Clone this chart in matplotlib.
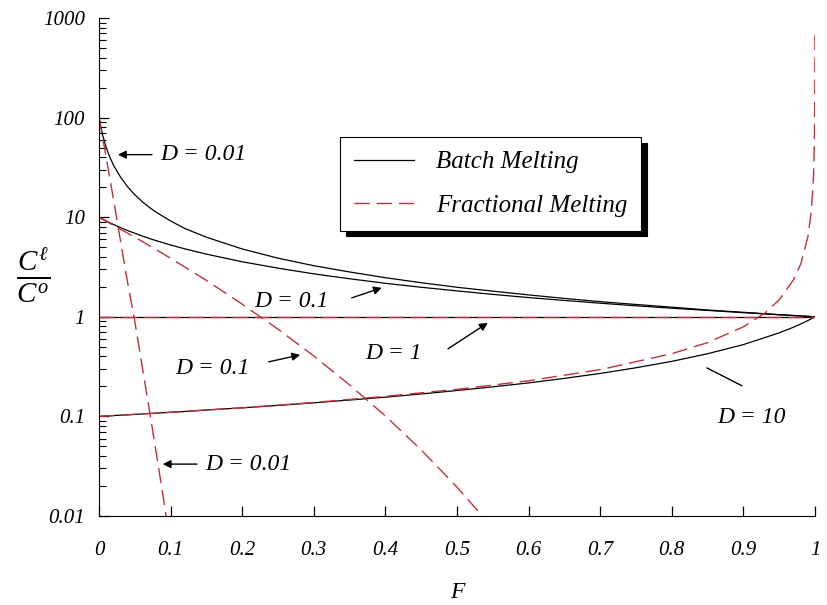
import matplotlib
matplotlib.use('Agg')
import matplotlib.pyplot as plt
from matplotlib.ticker import LogLocator, FixedLocator, NullFormatter

plt.rcParams['font.family'] = ['Liberation Serif', 'DejaVu Serif']
plt.rcParams['font.style'] = 'italic'
plt.rcParams['mathtext.fontset'] = 'custom'
plt.rcParams['mathtext.it'] = 'Liberation Serif:italic'
plt.rcParams['mathtext.rm'] = 'Liberation Serif:italic'

# Batch melting curves
batch_F = [0, 0.005, 0.01, 0.015, 0.02, 0.03, 0.04, 0.05, 0.06, 0.07, 0.08, 0.1, 0.12, 0.15, 0.2,
           0.25, 0.3, 0.35, 0.4, 0.45, 0.5, 0.55, 0.6, 0.65, 0.7, 0.75, 0.8, 0.85, 0.9, 0.95,
           0.97, 0.98, 0.99, 1.0]
batch_d001 = [100, 66.9, 50.3, 40.3, 33.6, 25.3, 20.2, 16.8, 14.4, 12.6, 11.2, 9.17, 7.7, 6.3, 4.8,
              3.88, 3.26, 2.82, 2.47, 2.2, 1.98, 1.81, 1.66, 1.53, 1.42, 1.33, 1.25, 1.17, 1.11, 1.05,
              1.03, 1.02, 1.01, 1.0]
batch_d01 = [10, 9.57, 9.17, 8.81, 8.47, 7.87, 7.35, 6.9, 6.49, 6.13, 5.81, 5.26, 4.81, 4.26, 3.57,
             3.08, 2.7, 2.41, 2.17, 1.98, 1.82, 1.68, 1.56, 1.46, 1.37, 1.29, 1.22, 1.16, 1.1, 1.05,
             1.03, 1.02, 1.01, 1.0]
batch_d1 = [1] * len(batch_F)
batch_d10 = [0.1, 0.1005, 0.101, 0.1014, 0.102, 0.103, 0.1036, 0.105, 0.1057, 0.107, 0.1079, 0.11,
             0.1121, 0.116, 0.122, 0.129, 0.137, 0.146, 0.156, 0.168, 0.182, 0.198, 0.217, 0.241,
             0.27, 0.308, 0.357, 0.426, 0.526, 0.69, 0.787, 0.847, 0.917, 1.0]

# Fractional melting curves
frac_F_d001 = [0, 0.01, 0.02, 0.03, 0.04, 0.05, 0.06, 0.07, 0.08, 0.09, 0.1]
frac_d001 = [100, 40, 15.5, 5.8, 2.2, 0.9, 0.33, 0.12, 0.043, 0.015, 0.005]

frac_F_d01 = [0, 0.025, 0.05, 0.075, 0.1, 0.15, 0.2, 0.25, 0.3, 0.35, 0.4, 0.45, 0.5, 0.55]
frac_d01 = [10, 7.95, 6.3, 4.96, 3.87, 2.32, 1.34, 0.751, 0.404, 0.207, 0.101, 0.0461, 0.0195, 0.0076]

frac_F_d1 = [0, 1.0]
frac_d1 = [1, 1]

frac_F_d10 = [0, 0.1, 0.2, 0.3, 0.4, 0.5, 0.6, 0.7, 0.8, 0.85, 0.9, 0.93, 0.95, 0.97, 0.98, 0.99,
              0.995, 0.998, 0.999, 0.9995, 0.9998, 0.9999, 0.99995]
frac_d10 = [0.1, 0.11, 0.122, 0.138, 0.159, 0.187, 0.228, 0.295, 0.426, 0.551, 0.794, 1.09, 1.48, 2.35,
            3.38, 6.31, 11.8, 26.9, 50.1, 93.3, 214, 398, 741]

x_ticks = [0, 0.1, 0.2, 0.3, 0.4, 0.5, 0.6, 0.7, 0.8, 0.9, 1]
x_tick_labels = ['0', '0.1', '0.2', '0.3', '0.4', '0.5', '0.6', '0.7', '0.8', '0.9', '1']
y_ticks = [0.01, 0.1, 1, 10, 100, 1000]
y_tick_labels = ['0.01', '0.1', '1', '10', '100', '1000']

red = '#c0303c'

fig = plt.figure(figsize=(8.27, 6.05), dpi=100)
ax = fig.add_axes([0.1197, 0.1471, 0.8658, 0.8231])

ax.plot(batch_F, batch_d001, color='black', lw=0.9, label='Batch Melting')
ax.plot(batch_F, batch_d01, color='black', lw=0.9)
ax.plot(batch_F, batch_d1, color='black', lw=0.9)
ax.plot(batch_F, batch_d10, color='black', lw=0.9)

for fx, fy, lab in [(frac_F_d001, frac_d001, 'Fractional Melting'), (frac_F_d01, frac_d01, None),
                    (frac_F_d1, frac_d1, None), (frac_F_d10, frac_d10, None)]:
    ax.plot(fx, fy, color=red, lw=1.0, dashes=(11, 5), label=lab)

ax.set_yscale('log')
ax.set_xlim(0, 1)
ax.set_ylim(0.01, 1000)

ax.spines['top'].set_visible(False)
ax.spines['right'].set_visible(False)

ax.xaxis.set_major_locator(FixedLocator(x_ticks))
ax.set_xticklabels(x_tick_labels)
ax.yaxis.set_major_locator(FixedLocator(y_ticks))
ax.set_yticklabels(y_tick_labels)
ax.yaxis.set_minor_locator(LogLocator(base=10, subs=range(2, 10)))
ax.yaxis.set_minor_formatter(NullFormatter())
ax.tick_params(axis='both', which='major', direction='in', length=7, width=0.9, labelsize=15)
ax.tick_params(axis='y', which='minor', direction='in', length=5, width=0.8)
ax.tick_params(axis='x', which='major', pad=18)
ax.tick_params(axis='y', which='major', pad=10)

ax.set_xlabel('F', fontsize=17, labelpad=16)
fig.text(0.04, 1 - 275 / 605, r'$\frac{C^{\ell}}{C^{o}}$', fontsize=30, ha='center', va='center')

leg = ax.legend(loc='upper left', bbox_to_anchor=(0.3366, 0.761), borderaxespad=0,
                fontsize=18, frameon=True, fancybox=False, edgecolor='black', framealpha=1,
                handlelength=2.4, borderpad=0.55, labelspacing=0.85, handletextpad=0.9,
                shadow={'color': 'black', 'alpha': 1, 'ox': 4, 'oy': -4})
leg.get_frame().set_linewidth(0.8)

arrow = dict(arrowstyle='-|>', color='black', lw=1, mutation_scale=12, shrinkA=0, shrinkB=0)
fs = 17

ax.text(0.085, 42.5, 'D = 0.01', fontsize=fs, ha='left', va='center')
ax.annotate('', xy=(0.0265, 42.5), xytext=(0.074, 42.5), arrowprops=arrow)

ax.text(0.2165, 1.415, 'D = 0.1', fontsize=fs, ha='left', va='center')
ax.annotate('', xy=(0.395, 1.956), xytext=(0.353, 1.55), arrowprops=arrow)

ax.text(0.3715, 0.425, 'D = 1', fontsize=fs, ha='left', va='center')
ax.annotate('', xy=(0.543, 0.87), xytext=(0.4874, 0.477), arrowprops=arrow)

ax.text(0.211, 0.30, 'D = 0.1', fontsize=fs, ha='right', va='center')
ax.annotate('', xy=(0.281, 0.415), xytext=(0.237, 0.353), arrowprops=arrow)

ax.text(0.863, 0.0986, 'D = 10', fontsize=fs, ha='left', va='center')
ax.annotate('', xy=(0.849, 0.307), xytext=(0.898, 0.203),
            arrowprops=dict(arrowstyle='-', color='black', lw=1, shrinkA=0, shrinkB=0))

ax.text(0.148, 0.0332, 'D = 0.01', fontsize=fs, ha='left', va='center')
ax.annotate('', xy=(0.089, 0.0332), xytext=(0.137, 0.0332), arrowprops=arrow)

fig.savefig('out.png', dpi=100)
